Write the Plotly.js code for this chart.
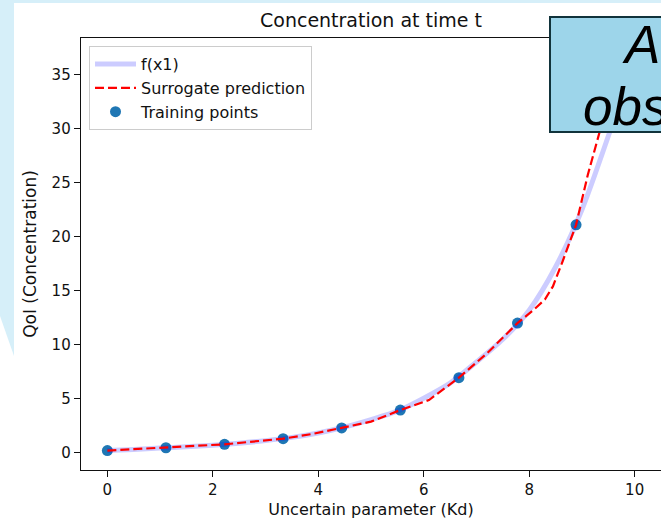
<!DOCTYPE html>
<html>
<head>
<meta charset="utf-8">
<script src="https://cdn.plot.ly/plotly-3.0.1.min.js"></script>
<style>
html,body{margin:0;padding:0;background:#ffffff;overflow:hidden;}
#wrap{position:relative;width:661px;height:524px;overflow:hidden;}
#bg,#chart,#ov{position:absolute;left:0;top:0;}
#ov{pointer-events:none;}
</style>
</head>
<body>
<div id="wrap">
<svg id="bg" width="661" height="524">
  <rect x="0" y="0" width="661" height="3" fill="#d6eff9"/>
  <polygon points="0,0 14,0 14,356 0,316" fill="#d6eff9"/>
</svg>
<div id="chart" style="width:661px;height:524px"></div>
<svg id="ov" width="661" height="524">
  <rect x="550" y="17" width="140" height="115" fill="#9dd5ea" stroke="#11333b" stroke-width="2"/>
  <text x="625" y="63" font-family="Liberation Sans, Arial, sans-serif" font-style="italic" font-size="53" fill="#000">A</text>
  <text x="583" y="125" font-family="Liberation Sans, Arial, sans-serif" font-style="italic" font-size="53" fill="#000">obs</text>
</svg>
</div>
<script>
// True model f(x1)
const fX = [0, 0.5, 1.0, 1.5, 2.0, 2.5, 3.0, 3.5, 4.0, 4.5, 5.0, 5.5, 6.0, 6.5, 7.0, 7.5, 8.0, 8.5, 9.0, 9.5, 10];
const fY = [0.2, 0.3, 0.43, 0.55, 0.7, 0.88, 1.12, 1.42, 1.83, 2.38, 3.07, 3.85, 5.05, 6.45, 8.4, 10.5, 13.2, 17.2, 22.5, 29.3, 36.5];

// Surrogate prediction
const sX = [0, 1.111, 2.222, 3.333, 3.9, 4.444, 5.0, 5.556, 6.1, 6.667, 7.2, 7.778, 8.1, 8.3, 8.45, 8.64, 8.889, 9.11, 9.37, 9.7, 10];
const sY = [0.2, 0.46, 0.78, 1.3, 1.75, 2.3, 2.88, 3.95, 4.88, 6.95, 9.2, 12.0, 13.3, 14.2, 15.4, 17.8, 21.1, 25.7, 30.3, 34.0, 36.5];

// Training points
const tX = [0, 1.111, 2.222, 3.333, 4.444, 5.556, 6.667, 7.778, 8.889, 10];
const tY = [0.2, 0.46, 0.78, 1.3, 2.3, 3.95, 6.95, 12.0, 21.1, 36.5];

const xTicks = [0, 2, 4, 6, 8, 10];
const yTicks = [0, 5, 10, 15, 20, 25, 30, 35];

const FONT = 'DejaVu Sans, sans-serif';

const traces = [
  {x: tX, y: tY, type: 'scatter', mode: 'markers', name: 'Training points', legendrank: 3,
   marker: {color: '#1f77b4', size: 11}},
  {x: fX, y: fY, type: 'scatter', mode: 'lines', name: 'f(x1)', legendrank: 1,
   line: {color: 'rgba(0,0,255,0.2)', width: 5, shape: 'spline', smoothing: 0.8}},
  {x: sX, y: sY, type: 'scatter', mode: 'lines', name: 'Surrogate prediction', legendrank: 2,
   line: {color: '#ff0000', width: 2.2, dash: '9px,4px'}}
];

const axisCommon = {
  ticks: 'outside', ticklen: 6, tickwidth: 1.3, tickcolor: '#111',
  showline: true, linecolor: '#111', linewidth: 1.3, mirror: true,
  showgrid: false, zeroline: false,
  tickfont: {family: FONT, size: 15, color: '#111'}
};

const layout = {
  width: 661, height: 524,
  margin: {l: 81, r: 0, t: 38, b: 54},
  paper_bgcolor: 'rgba(0,0,0,0)',
  plot_bgcolor: '#ffffff',
  font: {family: FONT, color: '#111'},
  title: {text: 'Concentration at time t', font: {family: FONT, size: 19, color: '#111'},
          x: 0.5, xref: 'paper', xanchor: 'center', y: 1 - 20/524, yref: 'container', yanchor: 'middle'},
  xaxis: Object.assign({}, axisCommon, {
    range: [-0.5, 10.5], tickmode: 'array', tickvals: xTicks, ticktext: xTicks.map(String),
    title: {text: 'Uncertain parameter (Kd)', font: {family: FONT, size: 16, color: '#111'}, standoff: 5}
  }),
  yaxis: Object.assign({}, axisCommon, {
    range: [-1.6, 38.4], tickmode: 'array', tickvals: yTicks, ticktext: yTicks.map(String),
    title: {text: 'QoI (Concentration)', font: {family: FONT, size: 17, color: '#111'}, standoff: 10}
  }),
  showlegend: true,
  legend: {x: 0.0138, y: 0.981, xanchor: 'left', yanchor: 'top', itemwidth: 41,
           bgcolor: 'rgba(255,255,255,0.85)', bordercolor: '#cccccc', borderwidth: 1,
           font: {family: FONT, size: 16, color: '#111'}, traceorder: 'normal'}
};

Plotly.newPlot('chart', traces, layout, {staticPlot: true, displayModeBar: false});
</script>
</body>
</html>
